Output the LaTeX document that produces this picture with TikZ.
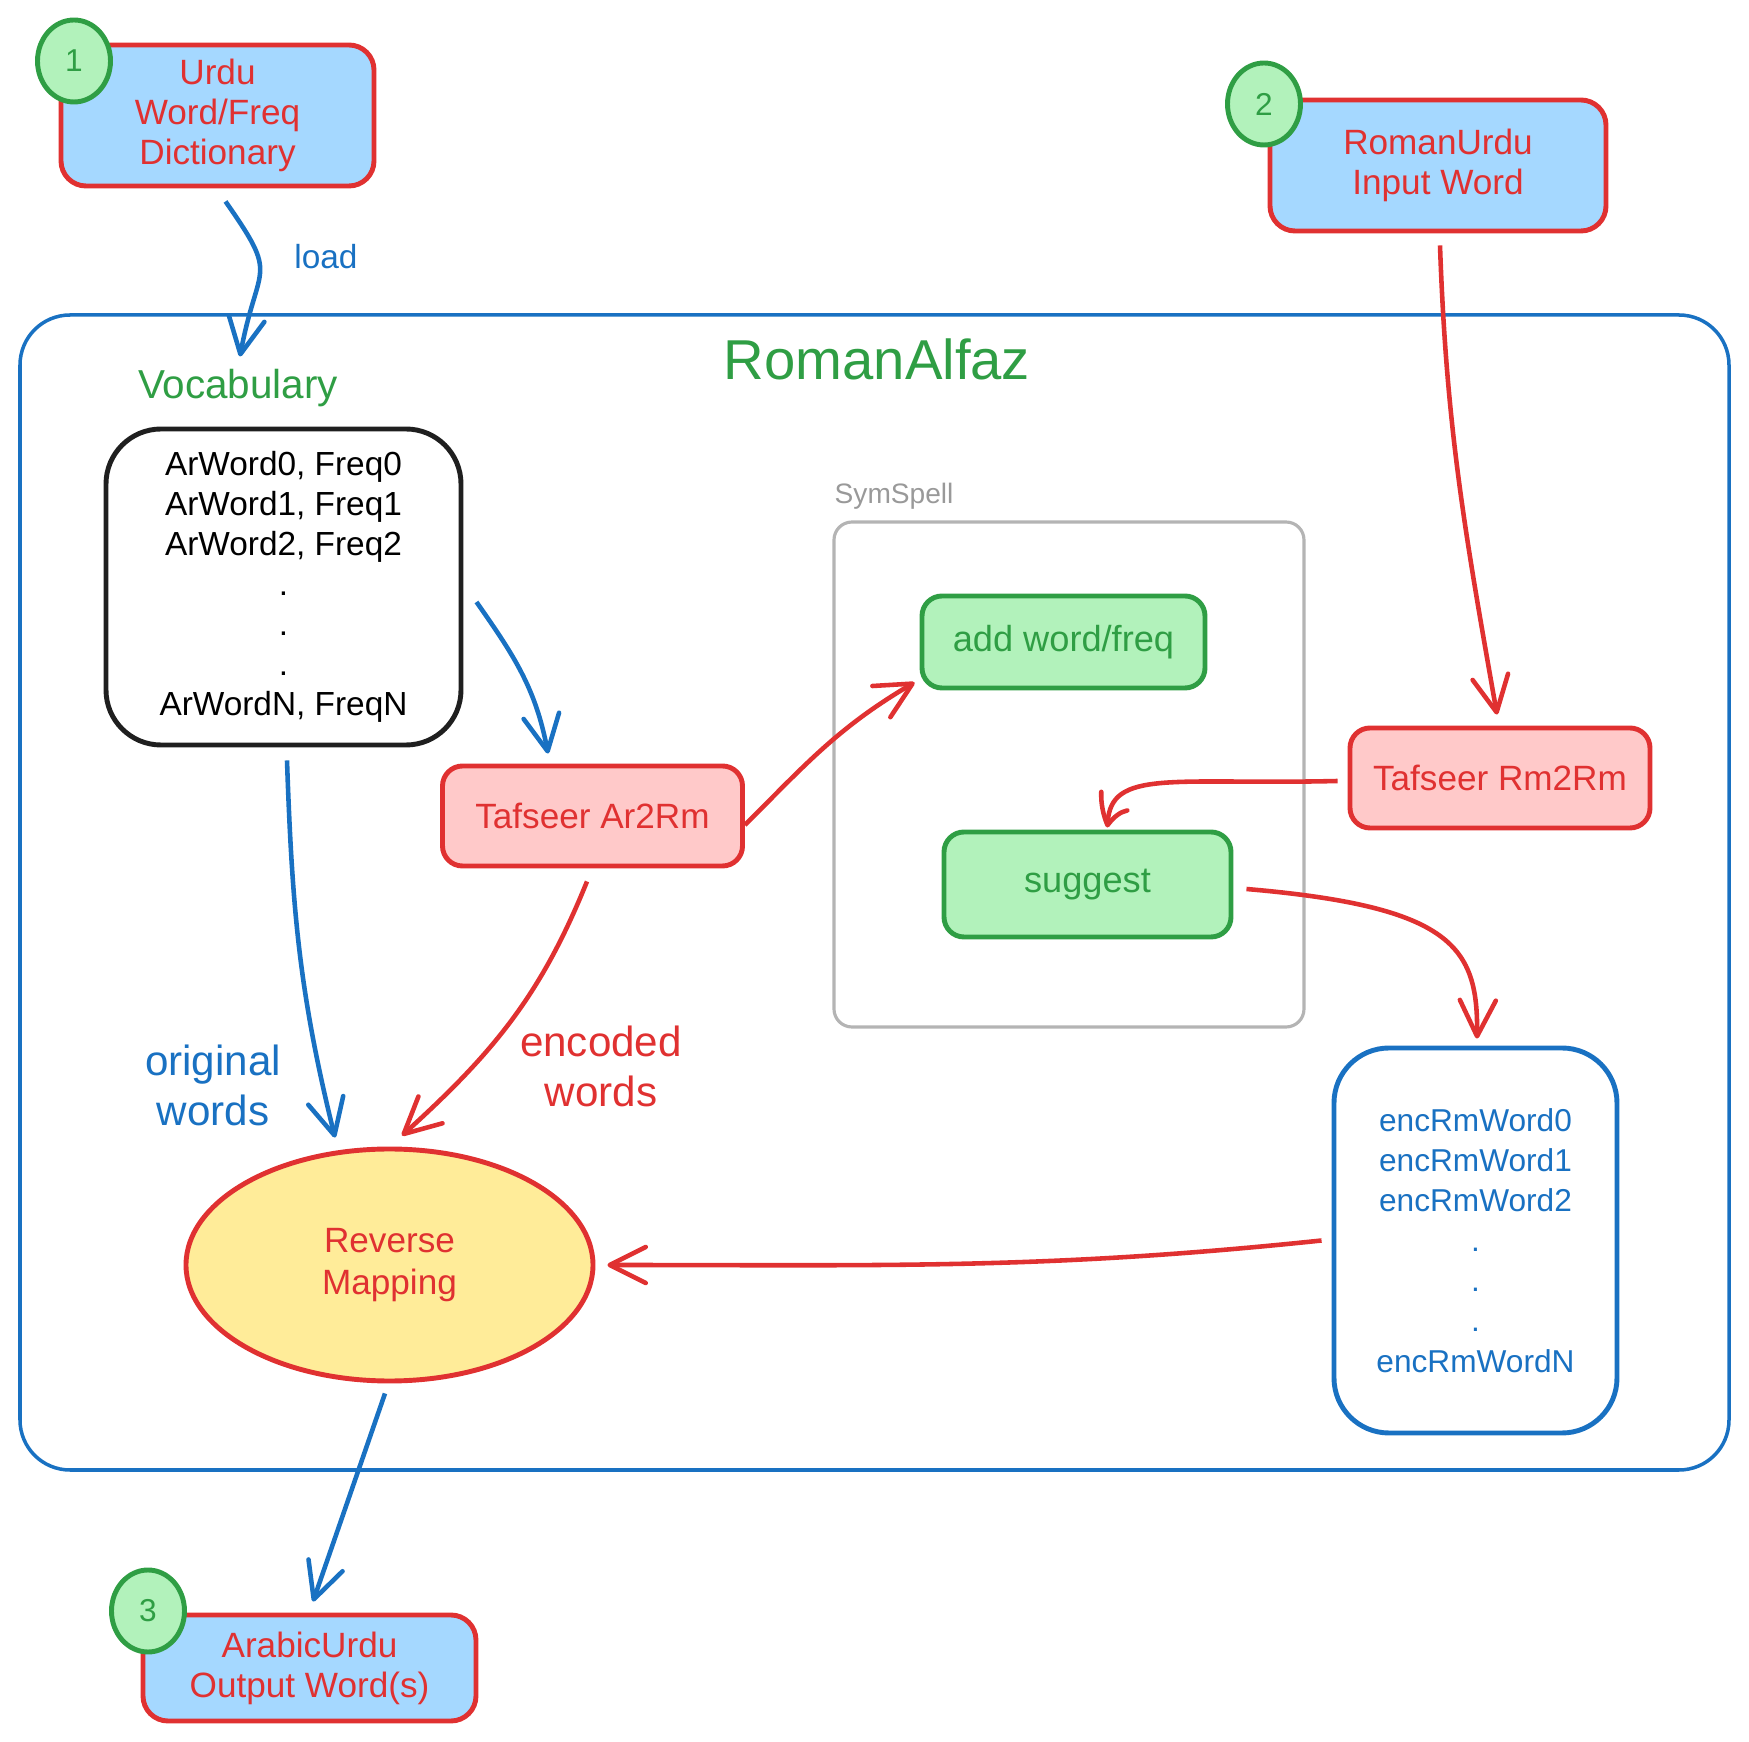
\documentclass[tikz,border=0pt]{standalone}
\usepackage{fontspec}
\setmainfont{Liberation Sans}
\usetikzlibrary{arrows.meta,bending,shapes.geometric,positioning}

% Palette
\definecolor{exred}{HTML}{E03131}
\definecolor{exblue}{HTML}{1971C2}
\definecolor{exgreen}{HTML}{2F9E44}
\definecolor{fillblue}{HTML}{A5D8FF}
\definecolor{fillgreen}{HTML}{B2F2BB}
\definecolor{fillpink}{HTML}{FFC9C9}
\definecolor{fillyellow}{HTML}{FFEC99}
\definecolor{framegray}{HTML}{B4B4B4}
\definecolor{labelgray}{HTML}{999999}

\tikzset{
  iobox/.style={draw=exred, fill=fillblue, line width=1.4pt, rounded corners=2.5mm,
    text=exred, align=center, inner sep=0pt, font=\fontsize{10}{11.4}\selectfont},
  tafbox/.style={draw=exred, fill=fillpink, line width=1.4pt, rounded corners=2mm,
    text=exred, minimum width=30mm, minimum height=10mm, inner sep=0pt,
    font=\fontsize{10}{12}\selectfont},
  symbox/.style={draw=exgreen, fill=fillgreen, line width=1.4pt, rounded corners=2mm,
    text=exgreen, inner sep=0pt, font=\fontsize{10.3}{12}\selectfont},
  badge/.style={ellipse, draw=exgreen, fill=fillgreen, line width=1.4pt, text=exgreen,
    minimum width=7.3mm, minimum height=8.2mm, inner sep=0pt,
    font=\fontsize{9}{10}\selectfont},
  listbox/.style={rounded corners=5.5mm, line width=1.4pt, align=center, inner sep=0pt},
  redflow/.style={->, draw=exred, line width=1.3pt},
  blueflow/.style={->, draw=exblue, line width=1.3pt},
}

\begin{document}
\begin{tikzpicture}[x=1mm, y=1mm, >={Straight Barb[length=3.6mm,width=3.6mm,round]}]

    % Cadre de la page (marges de la figure)
    \useasboundingbox (0,0) rectangle (174.9,-174.2);

    % Conteneur RomanAlfaz et son titre
    \draw[exblue, line width=1.0pt, rounded corners=5mm] (2.0,-31.5) rectangle (172.9,-147.0);
    \node[text=exgreen, font=\fontsize{16}{18}\selectfont] (title) at (87.7,-35.9) {RomanAlfaz};

    % Cadre SymSpell
    \draw[framegray, line width=0.9pt, rounded corners=1.8mm] (83.4,-52.2) rectangle (130.4,-102.7);
    \node[anchor=west, inner sep=0pt, text=labelgray, font=\fontsize{8}{10}\selectfont] (symlabel) at (83.4,-49.6) {SymSpell};

    % Entrees et sortie
    \node[iobox, minimum width=31.3mm, minimum height=14.1mm] (dict) at (21.75,-11.55) {Urdu\\Word/Freq\\Dictionary};
    \node[iobox, minimum width=33.6mm, minimum height=13.1mm] (input) at (143.8,-16.55) {RomanUrdu\\Input Word};
    \node[iobox, minimum width=33.3mm, minimum height=10.6mm] (output) at (30.95,-166.8) {ArabicUrdu\\Output Word(s)};

    % Pastilles numerotees sur les coins
    \foreach \n/\bx/\by in {1/7.4/-6.1, 2/126.4/-10.4, 3/14.8/-161.1} {
        \node[badge] (num\n) at (\bx,\by) {\n};
    }

    % Vocabulaire charge
    \node[inner sep=0pt, text=exgreen, font=\fontsize{11.5}{13}\selectfont] (voclabel) at (23.8,-38.8) {Vocabulary};
    \node[listbox, draw=black!88, minimum width=35.5mm, minimum height=31.6mm,
          font=\fontsize{9.5}{11.4}\selectfont] (vocab) at (28.35,-58.7)
          {ArWord0, Freq0\\ArWord1, Freq1\\ArWord2, Freq2\\.\\.\\.\\ArWordN, FreqN};

    % Translitterations
    \node[tafbox] (ar) at (59.25,-81.6) {Tafseer Ar2Rm};
    \node[tafbox] (rm) at (150.0,-77.8) {Tafseer Rm2Rm};

    % Operations SymSpell
    \node[symbox, minimum width=28.3mm, minimum height=9.2mm] (add) at (106.35,-64.2) {add word/freq};
    \node[symbox, minimum width=28.7mm, minimum height=10.5mm] (sug) at (108.75,-88.45) {suggest};

    % Suggestions encodees
    \node[listbox, draw=exblue, text=exblue, minimum width=28.3mm, minimum height=38.5mm,
          font=\fontsize{9}{11.4}\selectfont] (enc) at (147.55,-124.05)
          {encRmWord0\\encRmWord1\\encRmWord2\\.\\.\\.\\encRmWordN};

    % Correspondance inverse
    \node[ellipse, draw=exred, fill=fillyellow, line width=1.4pt, text=exred, align=center,
          minimum width=40.7mm, minimum height=23.2mm, inner sep=0pt,
          font=\fontsize{10}{12}\selectfont] (rev) at (38.95,-126.5) {Reverse\\Mapping};

    % Etiquettes des fleches
    \node[text=exblue, font=\fontsize{9.5}{11}\selectfont] (loadlabel) at (32.6,-25.7) {load};
    \node[text=exblue, align=center, font=\fontsize{12}{14.2}\selectfont] (origlabel) at (21.3,-108.5) {original\\words};
    \node[text=exred, align=center, font=\fontsize{12}{14.2}\selectfont] (enclabel) at (60.1,-106.6) {encoded\\words};

    % Fleches du flux
    \draw[blueflow] ([xshift=0.8mm,yshift=-1.3mm]dict.south) to[out=-55,in=80,looseness=1.6] ([xshift=0.2mm,yshift=1.2mm]voclabel.north);
    \draw[redflow] ([xshift=0.2mm,yshift=-1.2mm]input.south) to[out=-88,in=100] ([xshift=-0.3mm,yshift=1.1mm]rm.north);
    \draw[blueflow] ([xshift=1.3mm,yshift=-1.5mm]vocab.east) to[out=-55,in=100] ([xshift=-4.45mm,yshift=1.0mm]ar.north);
    \draw[redflow] ([yshift=-0.9mm]ar.east) to[out=45,in=-150] ([xshift=-0.5mm,yshift=0.8mm]add.south west);
    \draw[redflow, -{Straight Barb[length=2.8mm,width=3.2mm,round,bend]}] ([xshift=-1.0mm,yshift=-0.3mm]rm.west) .. controls +(-17,-0.4) and +(0,6) .. ([xshift=2.0mm,yshift=0.2mm]sug.north);
    \draw[redflow] ([xshift=1.3mm,yshift=-0.45mm]sug.east) .. controls +(21,-1.8) and +(0.2,9) .. ([xshift=0.15mm,yshift=0.7mm]enc.north);
    \draw[redflow] ([xshift=-1.0mm]enc.west) to[out=-174,in=0] ([xshift=1.2mm]rev.east);
    \draw[blueflow] ([xshift=0.35mm,yshift=-1.3mm]vocab.south) to[out=-88,in=104] ([xshift=-5.45mm,yshift=0.9mm]rev.north);
    \draw[redflow] ([xshift=-0.55mm,yshift=-1.3mm]ar.south) to[out=-112,in=42] ([xshift=1.25mm,yshift=1.1mm]rev.north);
    \draw[blueflow] ([xshift=-0.45mm,yshift=-1.0mm]rev.south) -- ([xshift=0.35mm,yshift=1.1mm]output.north);

\end{tikzpicture}
\end{document}
